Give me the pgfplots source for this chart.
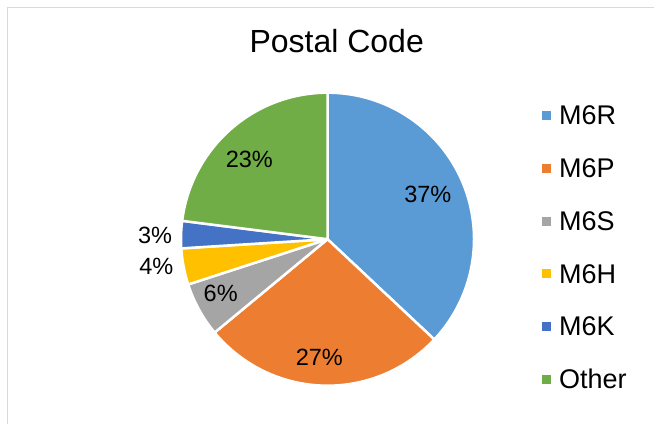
\documentclass[border=0pt]{standalone}
\usepackage{fontspec}
\setmainfont{Liberation Sans}
\usepackage{pgfplots}
\usepackage{pgfplotstable}
\pgfplotsset{compat=1.18}
\definecolor{cR}{HTML}{5B9BD5}
\definecolor{cP}{HTML}{ED7D31}
\definecolor{cS}{HTML}{A5A5A5}
\definecolor{cH}{HTML}{FFC000}
\definecolor{cK}{HTML}{4472C4}
\definecolor{cO}{HTML}{70AD47}
\definecolor{frame}{HTML}{D9D9D9}
\newcommand\labelfont{\fontsize{23.5bp}{27bp}\selectfont}
% label positions: lx, ly in axis units (bp from bottom left)
\pgfplotstableread{
name value lx ly color
M6R 37 427.8 229.8 cR
M6P 27 319.3 66.3 cP
M6S 6 220.7 130.7 cS
M6H 4 156.3 157.3 cH
M6K 3 155.0 188.2 cK
Other 23 249.3 264.5 cO
}\piedata
\begin{document}
\begin{tikzpicture}
\path[use as bounding box] (0,0) rectangle (654bp,424bp);
\draw[frame, line width=1bp] (7.5bp,0) -- (7.5bp,416.5bp) -- (654bp,416.5bp);
\begin{axis}[
  at={(0,0)}, anchor=south west,
  scale only axis, width=654bp, height=424bp,
  xmin=0, xmax=654, ymin=0, ymax=424,
  hide axis, clip=false,
  title={Postal Code},
  title style={at={(axis cs:336.7,365.7)}, anchor=base, yshift=0pt, font=\fontsize{32bp}{36bp}\selectfont, inner sep=0pt},
  legend image code/.code={\fill[#1] (0bp,-4.9bp) rectangle (9bp,4.1bp);},
  legend style={draw=none, fill=none, inner sep=0pt, at={(axis cs:542,318.7)}, anchor=north west,
    row sep=33.5bp,
    nodes={inner sep=0pt, text height=19.3bp, text depth=0bp, font=\fontsize{27bp}{31bp}\selectfont},
    /tikz/every odd column/.append style={column sep=8bp}},
  legend cell align=left,
]
\pgfplotstablegetrowsof{\piedata}
\pgfmathtruncatemacro{\N}{\pgfplotsretval-1}
\def\cum{0}
\pgfplotsforeachungrouped \i in {0,...,\N}{%
  \pgfplotstablegetelem{\i}{value}\of\piedata \let\v\pgfplotsretval
  \pgfplotstablegetelem{\i}{lx}\of\piedata \let\lx\pgfplotsretval
  \pgfplotstablegetelem{\i}{ly}\of\piedata \let\ly\pgfplotsretval
  \pgfplotstablegetelem{\i}{color}\of\piedata \let\c\pgfplotsretval
  \pgfplotstablegetelem{\i}{name}\of\piedata \let\nm\pgfplotsretval
  \pgfmathsetmacro{\sa}{90-3.6*\cum}%
  \pgfmathsetmacro{\ea}{90-3.6*(\cum+\v)}%
  \edef\temp{%
    \noexpand\fill[fill=\c, draw=white, line width=2.5bp, line join=round]
      (axis cs:327.5,184.8) -- ++(\sa:146.5bp) arc[start angle=\sa, end angle=\ea, radius=146.5bp] -- cycle;
    \noexpand\node[font=\noexpand\labelfont, inner sep=0pt] at (axis cs:\lx,\ly) {\v\noexpand\%};
    \noexpand\addlegendimage{fill=\c, draw=none}
    \noexpand\addlegendentry{\nm}
  }%
  \temp
  \pgfmathsetmacro{\cum}{\cum+\v}%
}
\end{axis}
\end{tikzpicture}
\end{document}
